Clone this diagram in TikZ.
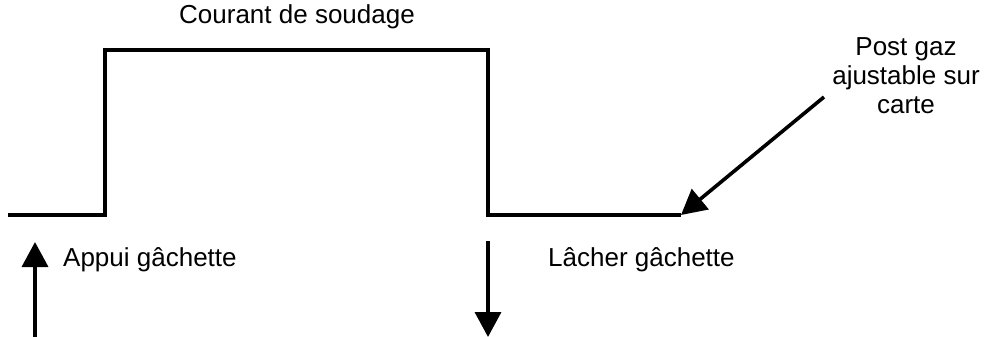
\documentclass[tikz,border=0pt]{standalone}
\usepackage{fontspec}
\setmainfont{Liberation Sans}
\usetikzlibrary{arrows.meta}
\tikzset{
  wave/.style={line width=3.6pt, line join=miter},
  arr/.style={line width=3.6pt, -{Triangle[length=25pt,width=26pt]}},
  lbl/.style={font=\fontsize{26}{29}\selectfont, inner sep=0pt, align=center}
}
\begin{document}
\begin{tikzpicture}[x=1pt,y=-1pt]
\useasboundingbox (0,0) rectangle (988,337);
\coordinate (w0) at (8,215);
\coordinate (w1) at (105,215);
\coordinate (w2) at (105,50);
\coordinate (w3) at (488,50);
\coordinate (w4) at (488,215);
\coordinate (w5) at (681,215);
\draw[wave] (w0) -- (w1) -- (w2) -- (w3) -- (w4) -- (w5);
\node[lbl] (courant) at (297,17) {Courant de soudage};
\node[lbl, anchor=west] (appui) at (63,260) {Appui gâchette};
\node[lbl, anchor=west] (lacher) at (548,260) {Lâcher gâchette};
\node[lbl] (post) at (906,76) {Post gaz\\ajustable sur\\carte};
\coordinate (ua0) at (35,337);
\coordinate (ua1) at (35,242);
\draw[arr] (ua0) -- (ua1);
\coordinate (da0) at (488,241);
\coordinate (da1) at (488,337);
\draw[arr] (da0) -- (da1);
\coordinate (pa0) at (824,97);
\draw[arr] (pa0) -- (w5);
\end{tikzpicture}
\end{document}
